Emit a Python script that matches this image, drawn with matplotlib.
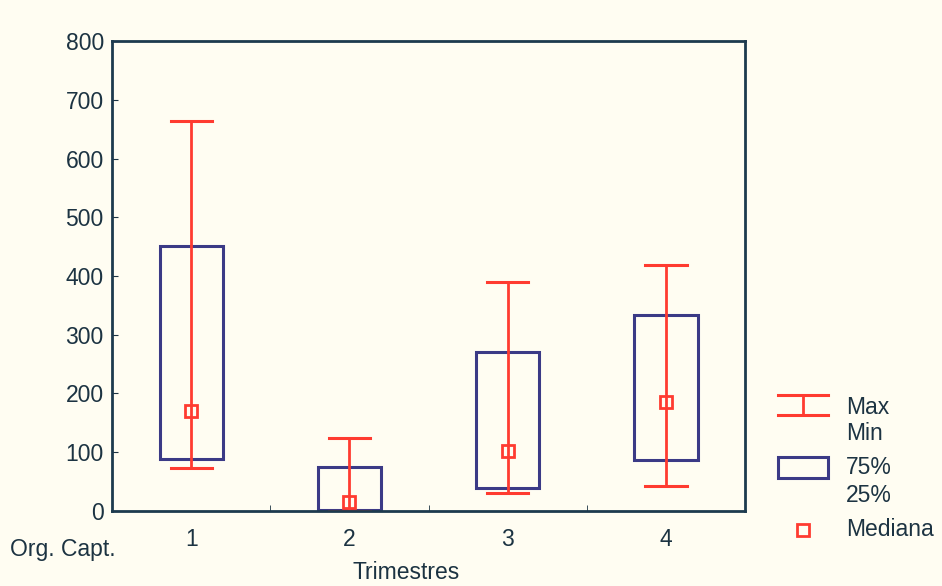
import matplotlib.pyplot as plt
from matplotlib.patches import Rectangle
from matplotlib.lines import Line2D

# dados
trimestres = [1, 2, 3, 4]
maximo = [664, 124, 390, 419]
minimo = [73, 0, 30, 43]
q75 = [451, 75, 271, 334]
q25 = [88, 2, 39, 87]
mediana = [170, 16, 102, 186]

fundo = '#fffdf2'
texto = '#1c3342'
azul = '#3b3a86'
verm = '#ff3b30'

plt.rcParams['font.family'] = ['Liberation Sans', 'DejaVu Sans']
plt.rcParams['font.size'] = 16.5

fig = plt.figure(figsize=(9.42, 5.86), dpi=100, facecolor=fundo)
ax = fig.add_axes([0.119, 0.128, 0.672, 0.802], facecolor=fundo)

larg = 0.4
cap = 0.26
for x, mx, mn, a, b, md in zip(trimestres, maximo, minimo, q75, q25, mediana):
    ax.add_patch(Rectangle((x - larg/2, b), larg, a - b, fill=False,
                           edgecolor=azul, lw=2.2, zorder=2))
    ax.plot([x, x], [mn, mx], color=verm, lw=2, zorder=3)
    ax.plot([x - cap/2, x + cap/2], [mx, mx], color=verm, lw=2.2, zorder=3)
    ax.plot([x - cap/2, x + cap/2], [mn, mn], color=verm, lw=2.2, zorder=3)
    ax.plot(x, md, marker='s', ms=8, mfc='none', mec=verm, mew=2, zorder=4)

ax.set_xlim(0.5, 4.5)
ax.set_ylim(0, 800)
ax.set_yticks(range(0, 801, 100))
ax.set_xticks(trimestres)
ax.set_xticks([1.5, 2.5, 3.5], minor=True)
ax.tick_params(axis='x', which='major', length=0, pad=12, colors=texto)
ax.tick_params(axis='x', which='minor', length=4, direction='in', color=texto)
ax.tick_params(axis='y', length=4, direction='in', colors=texto, pad=6)
for s in ax.spines.values():
    s.set_color('#1d3a4e')
    s.set_linewidth(2)
    s.set_zorder(5)

fig.text(0.374, 0.012, 'Trimestres', color=texto, ha='left')
fig.text(0.011, 0.052, 'Org. Capt.', color=texto, ha='left')

# legenda desenhada a mao
def fx(px):
    return px / 942.0
def fy(py):
    return 1 - py / 586.0

for yy in (395, 415):
    fig.add_artist(Line2D([fx(778), fx(828)], [fy(yy), fy(yy)], color=verm, lw=2.2))
fig.add_artist(Line2D([fx(803), fx(803)], [fy(395), fy(415)], color=verm, lw=2))
fig.add_artist(Rectangle((fx(778), fy(478)), fx(50), fy(457) - fy(478), fill=False,
                         edgecolor=azul, lw=2.2, transform=fig.transFigure))
fig.add_artist(Line2D([fx(803)], [fy(530)], marker='s', ms=8, mfc='none',
                      mec=verm, mew=2))
for txt, yy in [('Max', 408), ('Min', 434), ('75%', 467), ('25%', 495), ('Mediana', 530)]:
    fig.text(fx(846), fy(yy), txt, color=texto, va='center', ha='left')

fig.savefig('out.png', dpi=100, facecolor=fundo)
